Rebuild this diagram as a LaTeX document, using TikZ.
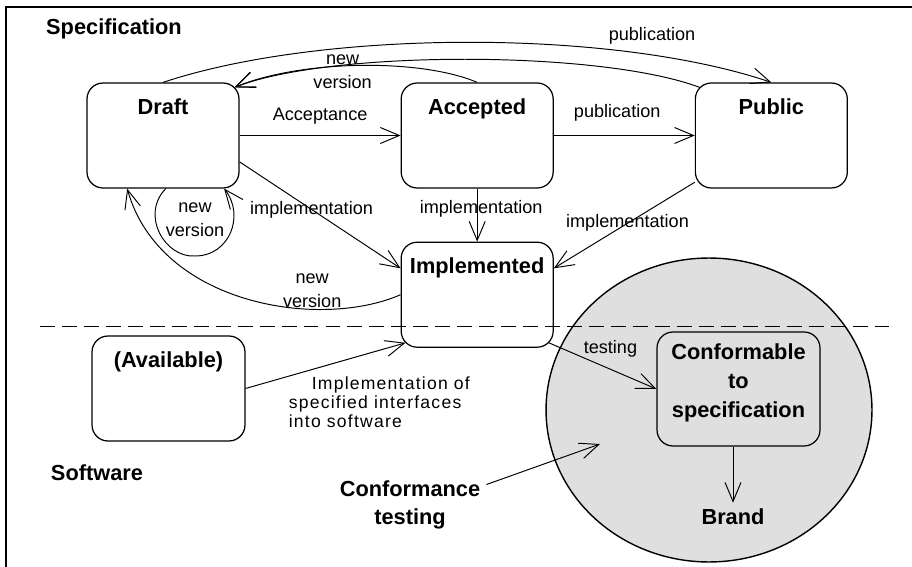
\documentclass[tikz,border=0pt]{standalone}
\usepackage{fontspec}
\setmainfont{Liberation Sans}
\newfontfamily\spreadfont[LetterSpace=7]{Liberation Sans}
\usetikzlibrary{arrows.meta, positioning, shapes.geometric}

\newcommand{\headfont}{\fontsize{12.4}{16.4}\selectfont\bfseries}
\newcommand{\edgefont}{\fontsize{10.3}{13.6}\selectfont}
\newcommand{\notefont}{\spreadfont\fontsize{10}{10.8}\selectfont}

\begin{document}
\begin{tikzpicture}[
    x=0.02cm, y=-0.02cm,
    stagebox/.style={draw, rounded corners=0.32cm, minimum width=3.04cm, minimum height=2.1cm, line width=0.7pt},
    stagename/.style={font=\headfont, anchor=north, yshift=-0.2cm},
    heading/.style={font=\headfont},
    edgelabel/.style={font=\edgefont, align=center},
    >={Straight Barb[length=3.8mm, width=3.2mm]},
    line width=0.55pt
  ]
  \useasboundingbox (0,0) rectangle (912,567);

  % frame
  \draw[line width=0.7pt] (6,567) -- (6,7) -- (912,7);

  % conformance testing area
  \node[ellipse, draw, fill=gray!25, line width=0.8pt, minimum width=6.52cm, minimum height=6.08cm] (testarea) at (709,410) {};

  % headings
  \node[heading] (spec) at (114,29) {Specification};
  \node[heading] (soft) at (97,473) {Software};

  % states
  \node[stagebox, label={[stagename]north:Draft}] (draft) at (163,135.5) {};
  \node[stagebox, label={[stagename]north:Accepted}] (accepted) [right=3.22cm of draft] {};
  \node[stagebox, label={[stagename]north:Public}] (public) [right=2.82cm of accepted] {};
  \node[stagebox, label={[stagename]north:Implemented}] (implemented) [below=1.06cm of accepted] {};
  \node[stagebox, minimum width=3.06cm, label={[stagename]north:(Available)}] (available) at (168.5,388.5) {};
  \node[stagebox, fill=gray!25, minimum width=3.26cm, minimum height=2.28cm] (conformable) at (738.5,389) {};
  \node[heading, align=center] (conftext) at (738.5,383) {Conformable\\to\\specification};
  \node[heading] (brand) at (733,517) {Brand};
  \node[heading, align=center] (conftest) at (410,505) {Conformance\\testing};
  \node[edgelabel] (looplbl) at (195,220) {new\\version};
  \coordinate (aim) at (600,444);

  % transitions
  \draw[->] (draft) -- node[edgelabel, midway, yshift=0.38cm] (acclbl) {Acceptance} (accepted);
  \draw[->] (accepted) -- node[edgelabel, pos=0.45, yshift=0.46cm] (publbl) {publication} (public);
  \draw[->] (draft.north) .. controls (320,30) and (610,28) .. (public.north)
    node[edgelabel, pos=0.785, yshift=0.38cm] (publbl2) {publication};
  \draw[->] ([shift={(5,5)}]public.north west) .. controls (600,50) and (330,50) .. ([shift={(-5,5)}]draft.north east);
  \draw[->] (accepted.north) .. controls (420,58) and (300,60) .. ([shift={(-5,5)}]draft.north east)
    node[edgelabel, pos=0.56, yshift=-0.12cm] (newlbl) {new\\version};
  \draw[->] (draft.-87) .. controls (140,215) and (165,258) .. (195,256)
    .. controls (230,256) and (245,215) .. (draft.-41);
  \draw[->] (implemented.west) .. controls (320,330) and (160,305) .. (draft.-124)
    node[edgelabel, pos=0.3, yshift=0.38cm] (newlbl2) {new\\version};

  \draw[->] (draft.-19) -- node[edgelabel, pos=0.447] (impl1) {implementation} (implemented.161);
  \draw[->] (accepted) -- node[edgelabel, pos=0.38, xshift=0.08cm] (impl2) {implementation} (implemented);
  \draw[->] (public) -- node[edgelabel, pos=0.477] (impl3) {implementation} (implemented.19);

  \draw[->] (available.east) -- node[pos=0.267, anchor=north west, inner sep=0, font=\notefont, align=left] (impllbl)
    {\hspace*{0.46cm}Implementation of\\specified interfaces\\into software} ([shift={(5,-5)}]implemented.south west);
  \draw[->] ([shift={(-5,-5)}]implemented.south east) -- node[edgelabel, pos=0.573, yshift=0.4cm] (testlbl) {testing} (conformable.west);
  \draw[->] (conformable.south -| brand) -- (brand);
  \draw[->] (conftest.15) -- (aim);

  % border between specification and software
  \draw[dash pattern=on 8.5pt off 4pt, line width=0.45pt] (40,326) -- (890,326);
\end{tikzpicture}
\end{document}
